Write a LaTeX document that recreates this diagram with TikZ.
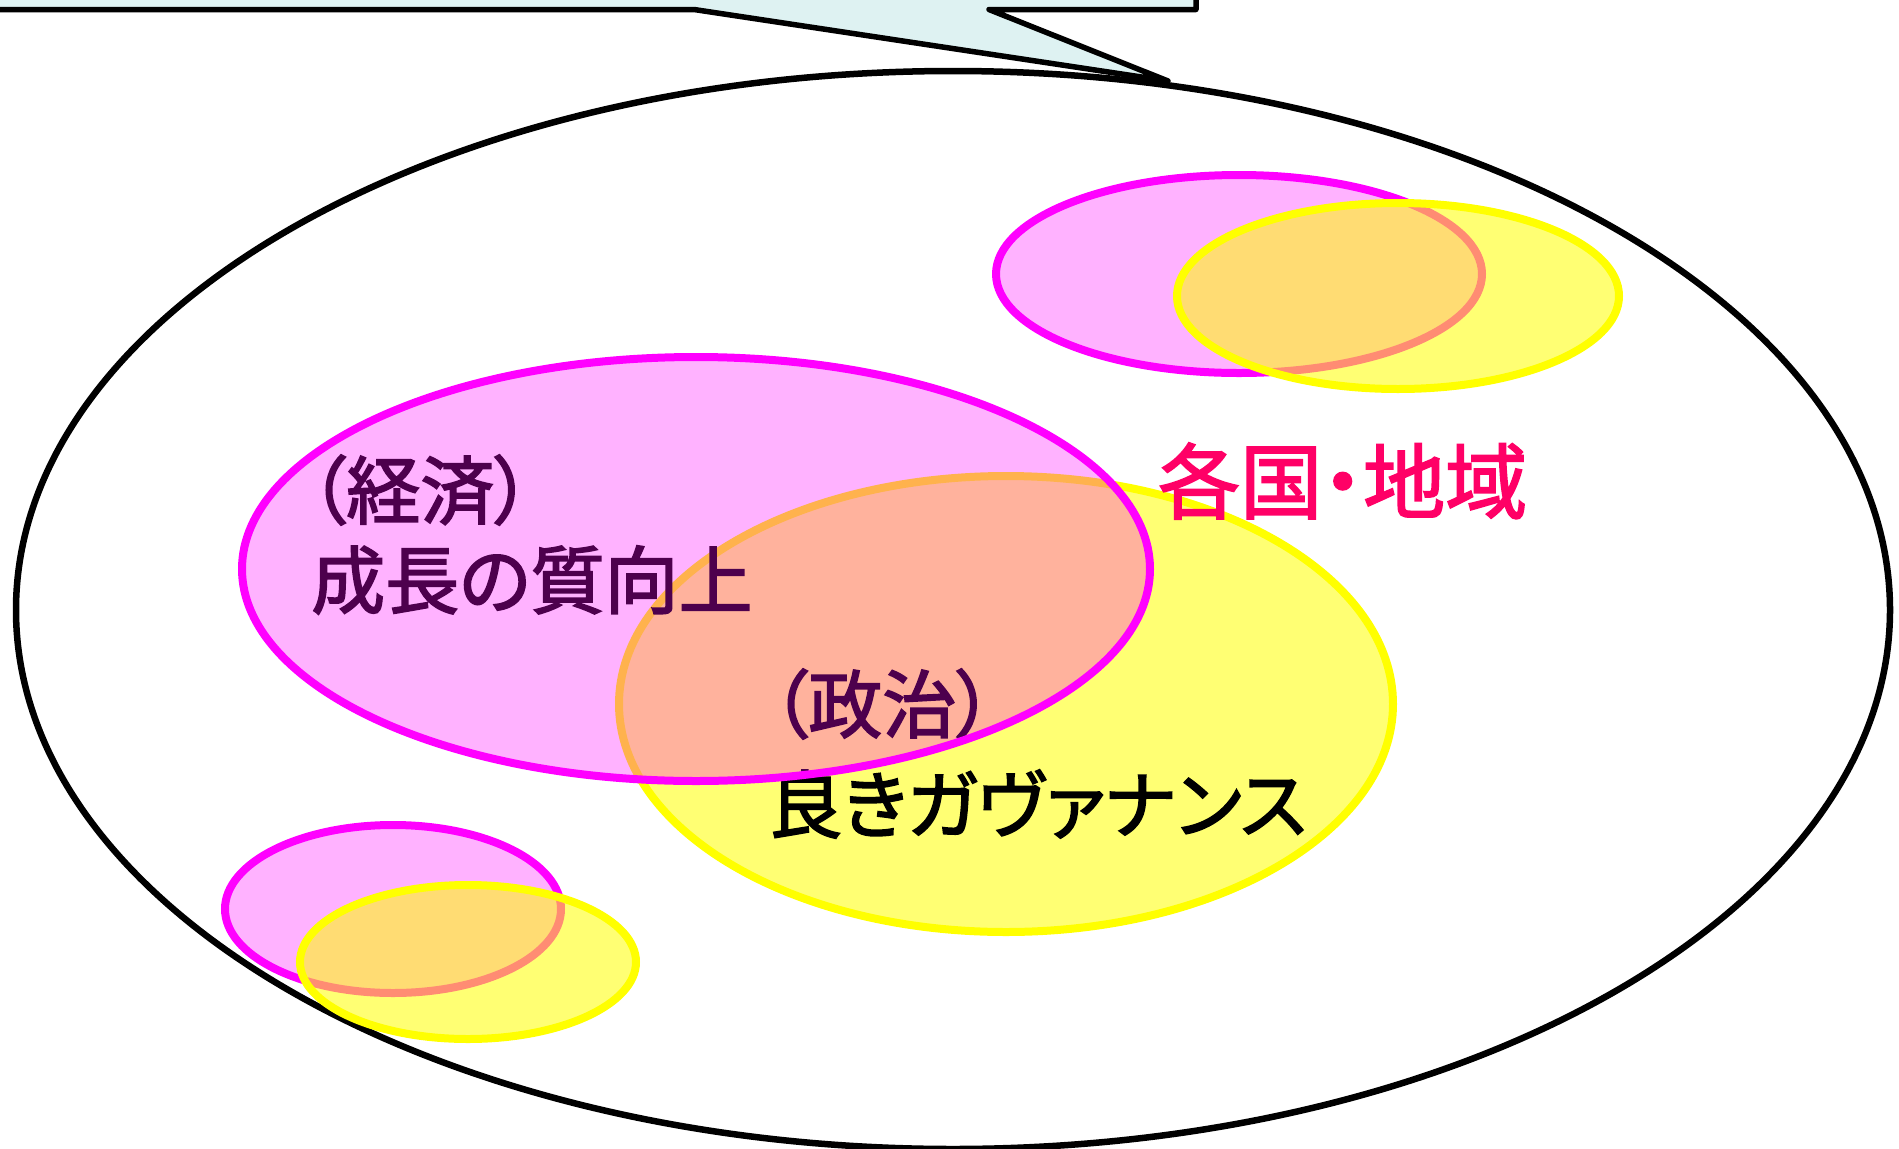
\documentclass[tikz,border=0pt]{standalone}
\usepackage{fontspec}
\newfontfamily\jp[RawFeature=+palt, FakeBold=2.2]{Noto Sans CJK JP}
\definecolor{pinkline}{RGB}{255,0,255}
\definecolor{yel}{RGB}{255,255,0}
\definecolor{callfill}{RGB}{222,242,242}
\definecolor{regionred}{RGB}{255,0,102}
\begin{document}
\begin{tikzpicture}[x=1pt,y=-1pt,
  pinkov/.style={draw=pinkline, line width=8pt, fill=pinkline, fill opacity=0.3},
  yelov/.style={draw=yel, line width=8pt, fill=yel, fill opacity=0.55},
  lbl/.style={font=\jp\fontsize{74}{80}\selectfont, inner sep=0pt, anchor=west, text=black},
  callout/.style={draw=black, line width=5.5pt, fill=callfill, line join=round},
  outer/.style={draw=black, line width=6.5pt}]
\useasboundingbox (0,0) rectangle (1899,1149);
\clip (0,0) rectangle (1899,1149);
\fill[white] (0,0) rectangle (1899,1149);
% callout
\coordinate (tip) at (1168,81);
\draw[callout] (-20,-100) -- (1196,-100) -- (1196,9.5) -- (989,9.5) -- (tip) -- (694,9.5) -- (-20,9.5) -- cycle;
% outer region
\draw[outer] (953,610) ellipse [x radius=937, y radius=539];
% top-right pair
\path[pinkov] (1239,274) ellipse [x radius=243, y radius=99];
\path[yelov] (1398,296) ellipse [x radius=221, y radius=93];
% bottom-left pair
\path[pinkov] (393,909) ellipse [x radius=168, y radius=84];
\path[yelov] (468,962) ellipse [x radius=168, y radius=77];
% big pair
\path[yelov] (1006,704) ellipse [x radius=387, y radius=228];
\node[lbl] (keizai) at (309,490) {（経済）};
\node[lbl] (seicho) at (311,580) {成長の質向上};
\node[lbl] (seiji) at (771,704) {（政治）};
\node[lbl] (gov) at (768,804) {良きガヴァナンス};
\path[pinkov] (696,569) ellipse [x radius=454, y radius=212];
% label
\node[lbl, font=\jp\fontsize{82}{88}\selectfont, text=regionred] (kakkoku) at (1158,481) {各国・地域};
\end{tikzpicture}
\end{document}
